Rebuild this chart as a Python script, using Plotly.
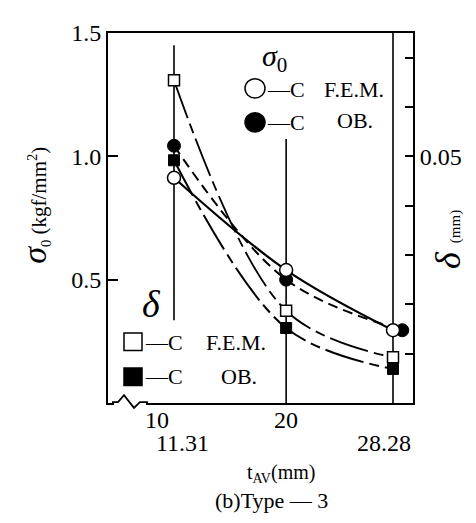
import plotly.graph_objects as go

# ---------------- data ----------------
x_cats = [11.31, 20.0, 28.28]
sigma_fem = [0.913, 0.539, 0.295]          # sigma0, F.E.M. (open circles)
sigma_ob_x = [11.31, 20.0, 29.0]
sigma_ob = [1.043, 0.500, 0.295]           # sigma0, OB. (filled circles)
delta_fem = [0.0654, 0.0187, 0.00925]      # delta, F.E.M. (open squares)
delta_ob = [0.0492, 0.0152, 0.0069]        # delta, OB. (filled squares)

x_tick_vals = [10, 20, 30]
x_tick_text = ["10", "20", "30"]
x_sub_vals = [11.31, 28.28]
x_sub_text = ["11.31", "28.28"]
sigma_tick_vals = [0.5, 1.0, 1.5]
sigma_tick_text = ["0.5", "1.0", "1.5"]
delta_tick_vals = [0.05]
delta_tick_text = ["0.05"]
delta_minor_step = 0.01

# vertical guide lines (x, y-from, y-to on sigma scale)
guide_x = [11.31, 20.0, 28.28]
guide_y0 = [0.335, 0.0, 0.0]
guide_y1 = [1.45, 1.07, 1.5]

# ---------------- layout helpers ----------------
W, H = 476, 523
L, R, T, B = 100, 405, 14, 395
FONT = "Liberation Serif, Times New Roman, serif"


def px(x):
    return (x - L) / (R - L)


def py(y):
    return (B - y) / (B - T)


fig = go.Figure()

BLK = "black"
# lines
fig.add_trace(go.Scatter(x=x_cats, y=sigma_fem, mode="lines", line=dict(color=BLK, width=2.2, shape="spline"),
                         showlegend=False, hoverinfo="skip"))
fig.add_trace(go.Scatter(x=sigma_ob_x, y=sigma_ob, mode="lines",
                         line=dict(color=BLK, width=2, shape="spline", dash="10px,6px"),
                         showlegend=False, hoverinfo="skip"))
fig.add_trace(go.Scatter(x=x_cats, y=delta_fem, yaxis="y2", mode="lines",
                         line=dict(color=BLK, width=1.8, shape="spline", dash="40px,6px,10px,6px"),
                         showlegend=False, hoverinfo="skip"))
fig.add_trace(go.Scatter(x=x_cats, y=delta_ob, yaxis="y2", mode="lines",
                         line=dict(color=BLK, width=2, shape="spline", dash="40px,6px,10px,6px"),
                         showlegend=False, hoverinfo="skip"))
# markers
fig.add_trace(go.Scatter(x=x_cats, y=delta_ob, yaxis="y2", mode="markers",
                         marker=dict(symbol="square", size=11, color=BLK, line=dict(color=BLK, width=1)),
                         showlegend=False))
fig.add_trace(go.Scatter(x=x_cats, y=delta_fem, yaxis="y2", mode="markers",
                         marker=dict(symbol="square", size=11, color="white", line=dict(color=BLK, width=1.5)),
                         showlegend=False))
fig.add_trace(go.Scatter(x=sigma_ob_x, y=sigma_ob, mode="markers",
                         marker=dict(symbol="circle", size=13, color=BLK, line=dict(color=BLK, width=1)),
                         showlegend=False))
fig.add_trace(go.Scatter(x=x_cats, y=sigma_fem, mode="markers",
                         marker=dict(symbol="circle", size=13, color="white", line=dict(color=BLK, width=1.5)),
                         showlegend=False))

shapes = []
for gx, g0, g1 in zip(guide_x, guide_y0, guide_y1):
    shapes.append(dict(type="line", xref="x", yref="y", x0=gx, x1=gx, y0=g0, y1=g1,
                       line=dict(color=BLK, width=1.6), layer="below"))

# axis break zigzag on the bottom axis
shapes.append(dict(type="rect", xref="paper", yref="paper", x0=px(106), x1=px(138), y0=py(401), y1=py(390),
                   line=dict(width=0), fillcolor="white", layer="above"))
zig = [(104, 394), (110, 394), (116, 387), (126, 400), (132, 394), (140, 394)]
path = "M " + " L ".join(f"{px(a):.4f},{py(b):.4f}" for a, b in zig)
shapes.append(dict(type="path", xref="paper", yref="paper", path=path,
                   line=dict(color=BLK, width=1.8), layer="above"))

# legend glyphs
def circ(cx, cy, r, fill):
    return dict(type="circle", xref="paper", yref="paper", x0=px(cx - r), x1=px(cx + r),
                y0=py(cy + r), y1=py(cy - r), line=dict(color=BLK, width=1.5), fillcolor=fill, layer="above")


def sq(cx, cy, s, fill):
    return dict(type="rect", xref="paper", yref="paper", x0=px(cx - s), x1=px(cx + s),
                y0=py(cy + s), y1=py(cy - s), line=dict(color=BLK, width=1.5), fillcolor=fill, layer="above")


shapes += [circ(247, 71, 10, "white"), circ(247, 106, 10, "black"),
           sq(125, 332, 9, "white"), sq(125, 368, 9, "black")]

ann = []


def text(x, y, s, size=22, xa="center", angle=0):
    ann.append(dict(xref="paper", yref="paper", x=px(x), y=py(y), text=s, showarrow=False,
                    xanchor=xa, yanchor="middle", textangle=angle,
                    font=dict(family=FONT, size=size, color=BLK)))


# x tick labels
for v, t in zip(x_tick_vals, x_tick_text):
    ann.append(dict(xref="x", yref="paper", x=v, y=py(413), text=t, showarrow=False,
                    xanchor="center", yanchor="middle", font=dict(family=FONT, size=24, color=BLK)))
for v, t, sh in zip(x_sub_vals, x_sub_text, [8, -9]):
    ann.append(dict(xref="x", yref="paper", x=v, y=py(436), text=t, showarrow=False, xshift=sh,
                    xanchor="center", yanchor="middle", font=dict(family=FONT, size=24, color=BLK)))

# legend texts
text(266, 40, "<i>σ</i><sub>0</sub>", size=30)
text(257, 72, "—C", xa="left")
text(314, 72, "F.E.M.", xa="left")
text(257, 106, "—C", xa="left")
text(327, 104, "OB.", xa="left")
text(143, 293, "<i>δ</i>", size=38)
text(135, 333, "—C", xa="left")
text(196, 333, "F.E.M.", xa="left")
text(135, 368, "—C", xa="left")
text(211, 368, "OB.", xa="left")

# axis titles
text(27, 192, "<span style='font-size:34px'><i>σ</i></span><sub>0</sub> (kgf/mm<sup>2</sup>)", size=21, angle=-90)
text(440, 226, "<i>δ</i> <span style='font-size:15px'>(mm)</span>", size=36, angle=-90)
text(273, 468, "t<sub>AV</sub>(mm)", size=20)
text(263, 495, "(b)Type — 3", size=22)

fig.update_layout(
    width=W, height=H,
    margin=dict(l=L, r=W - R, t=T, b=H - B, pad=0),
    paper_bgcolor="white", plot_bgcolor="white",
    showlegend=False,
    font=dict(family=FONT, color=BLK),
    shapes=shapes, annotations=ann,
    xaxis=dict(range=[6.196, 29.83], showline=True, linecolor=BLK, linewidth=2, mirror=True,
               showgrid=False, zeroline=False, ticks="", showticklabels=False),
    yaxis=dict(range=[0, 1.5], showline=True, linecolor=BLK, linewidth=2, showgrid=False, zeroline=False,
               ticks="inside", ticklen=10, tickwidth=2, tickcolor=BLK,
               tickvals=sigma_tick_vals, ticktext=sigma_tick_text,
               tickfont=dict(family=FONT, size=24, color=BLK)),
    yaxis2=dict(range=[0, 0.075], overlaying="y", side="right", showline=True, linecolor=BLK, linewidth=2,
                showgrid=False, zeroline=False, ticks="inside", ticklen=8, tickwidth=2, tickcolor=BLK,
                tickvals=delta_tick_vals, ticktext=delta_tick_text,
                minor=dict(tick0=0, dtick=delta_minor_step, ticks="inside", ticklen=8, tickwidth=2,
                           tickcolor=BLK, showgrid=False),
                tickfont=dict(family=FONT, size=24, color=BLK)),
)

fig.write_html("out.html")
